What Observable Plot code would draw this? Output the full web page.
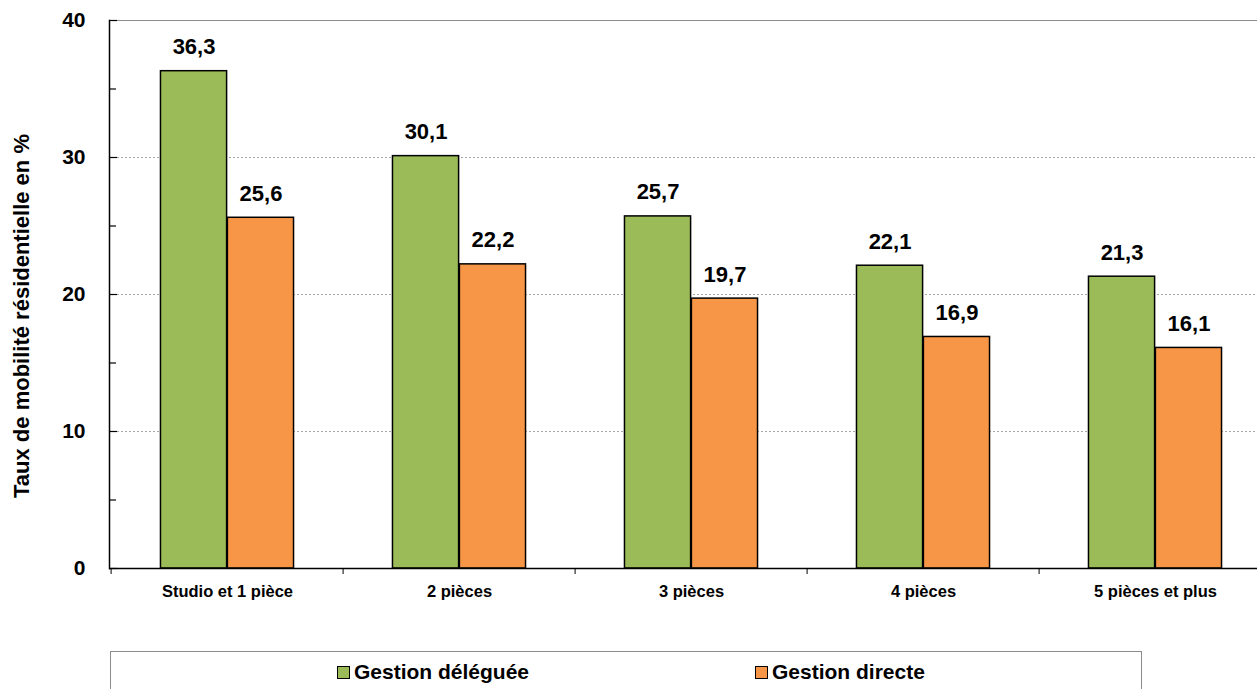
<!DOCTYPE html>
<html>
<head>
<meta charset="utf-8">
<script src="https://cdn.jsdelivr.net/npm/d3@7"></script>
<script src="https://cdn.jsdelivr.net/npm/@observablehq/plot@0.6"></script>
<style>
  html, body { margin: 0; padding: 0; background: #fff; }
  #wrap { position: relative; width: 1257px; height: 689px; overflow: hidden; }
  #chart { position: absolute; left: 0; top: 0; width: 1274px; }
  #chart svg { max-width: none !important; }
  .ytitle {
    position: absolute; left: 22px; top: 316px;
    transform: translate(-50%, -50%) rotate(-90deg);
    white-space: nowrap;
    font: bold 22px "Liberation Sans", Arial, sans-serif; color: #000;
  }
  .legend {
    position: absolute; left: 110px; top: 651px; width: 1032px; height: 60px;
    border: 1px solid #8c8c8c; box-sizing: border-box;
  }
  .item { position: absolute; top: 8px; display: flex; align-items: center;
    font: bold 21px "Liberation Sans", Arial, sans-serif; color: #000; }
  .sw { width: 11px; height: 11px; border: 1px solid #000; margin-right: 4px; }
</style>
</head>
<body>
<div id="wrap">
  <div id="chart"></div>
  <div class="ytitle">Taux de mobilité résidentielle en %</div>
  <div class="legend" id="legend"></div>
</div>
<script>
const categories = ["Studio et 1 pièce", "2 pièces", "3 pièces", "4 pièces", "5 pièces et plus"];
const seriesNames = ["Gestion déléguée", "Gestion directe"];
const delegated = [36.3, 30.1, 25.7, 22.1, 21.3];
const direct = [25.6, 22.2, 19.7, 16.9, 16.1];
const colors = ["#9BBB59", "#F79646"];
const yTicks = [0, 10, 20, 30, 40];
const yMinorTicks = [5, 15, 25, 35];
const gridTicks = [10, 20, 30];

const rows = [];
categories.forEach((c, i) => {
  rows.push({cat: c, series: seriesNames[0], value: delegated[i]});
  rows.push({cat: c, series: seriesNames[1], value: direct[i]});
});

const W = 1274, H = 610, mL = 109, mR = 1, mT = 20, mB = 42;
const step = (W - mL - mR) / categories.length;
const outer = step * 0.2125;      // gap between band edge and bar group
const inner = step / 2;           // half band
const barCenterOffset = (inner - outer) / 2;
const fmt = v => d3.format(".1f")(v).replace(".", ",");

const g = rows.filter(d => d.series === seriesNames[0]);
const o = rows.filter(d => d.series === seriesNames[1]);

const chart = Plot.plot({
  width: W, height: H,
  marginLeft: mL, marginRight: mR, marginTop: mT, marginBottom: mB,
  style: {fontFamily: '"Liberation Sans", Arial, sans-serif', color: "#000", background: "transparent", maxWidth: "none"},
  x: {domain: categories, padding: 0, label: null},
  y: {domain: [0, 40], label: null},
  marks: [
    Plot.frame({stroke: "#8c8c8c", strokeWidth: 1}),
    Plot.gridY(gridTicks, {stroke: "#a6a6a6", strokeOpacity: 1, strokeDasharray: "2,2", strokeWidth: 1}),
    Plot.barY(g, {x: "cat", y: "value", fill: colors[0], stroke: "#000", strokeWidth: 1.5,
      insetLeft: outer, insetRight: inner}),
    Plot.barY(o, {x: "cat", y: "value", fill: colors[1], stroke: "#000", strokeWidth: 1.5,
      insetLeft: inner, insetRight: outer}),
    Plot.text(g, {x: "cat", y: "value", text: d => fmt(d.value), dx: -barCenterOffset, dy: -24,
      fontSize: 22, fontWeight: "bold", fill: "#000"}),
    Plot.text(o, {x: "cat", y: "value", text: d => fmt(d.value), dx: barCenterOffset, dy: -24,
      fontSize: 22, fontWeight: "bold", fill: "#000"}),
    Plot.ruleY([0], {stroke: "#000", strokeWidth: 1.5}),
    Plot.frame({anchor: "left", stroke: "#000", strokeWidth: 1.5}),
    Plot.ruleX(categories, {x: d => d, y1: 0, y2: 0, insetBottom: -6, dx: -step / 2, stroke: "#000", strokeWidth: 1}),
    Plot.axisY(yTicks, {tickSize: 0, tickPadding: 24, fontSize: 21, fontWeight: "bold", label: null}),
    Plot.axisY(yTicks, {tickSize: -8, tickFormat: () => "", stroke: "#000", strokeWidth: 1.2, label: null}),
    Plot.axisY(yMinorTicks, {tickSize: -7, tickFormat: () => "", stroke: "#000", strokeWidth: 1.2, label: null}),
    Plot.axisX({tickSize: 0, tickPadding: 17, fontSize: 16.5, fontWeight: "bold", label: null})
  ]
});
document.getElementById("chart").appendChild(chart);

const legend = document.getElementById("legend");
const legendLeft = [226, 644];
seriesNames.forEach((name, i) => {
  const it = document.createElement("div");
  it.className = "item";
  it.style.left = legendLeft[i] + "px";
  const sw = document.createElement("span");
  sw.className = "sw";
  sw.style.background = colors[i];
  const t = document.createElement("span");
  t.textContent = name;
  it.appendChild(sw); it.appendChild(t);
  legend.appendChild(it);
});
</script>
</body>
</html>
